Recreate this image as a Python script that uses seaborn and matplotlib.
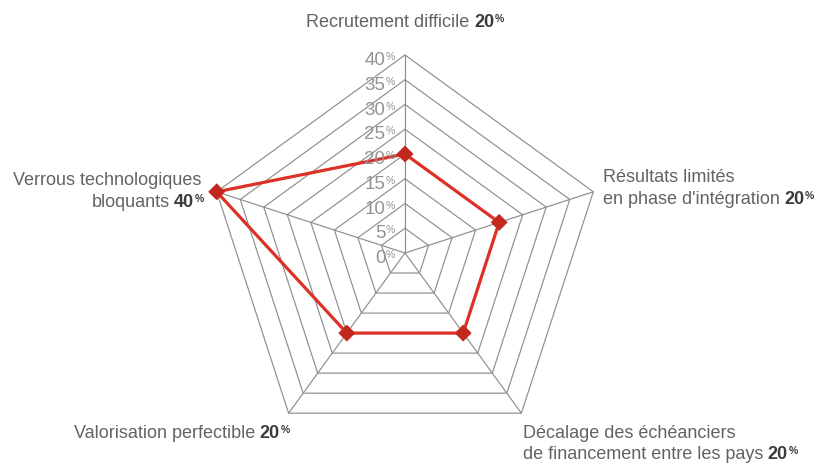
import numpy as np
import pandas as pd
import matplotlib
matplotlib.use("Agg")
import matplotlib.pyplot as plt
from matplotlib.transforms import IdentityTransform
import seaborn as sns

# --- data -------------------------------------------------------------
categories = [
    "Recrutement difficile",
    "Résultats limités\nen phase d'intégration",
    "Décalage des échéanciers\nde financement entre les pays",
    "Valorisation perfectible",
    "Verrous technologiques\nbloquants",
]
shares = [20, 20, 20, 20, 40]
ring_values = [0, 5, 10, 15, 20, 25, 30, 35, 40]
ring_labels = ["0", "5", "10", "15", "20", "25", "30", "35", "40"]

# --- layout (pixels) --------------------------------------------------
W, H = 821, 465
CX, CY, R = 405, 253, 198

GRID = "#8e8e8e"
LINE_RED = "#dd3026"
MARK_RED = "#c3281e"
TXT = "#636363"
TXT_BOLD = "#3c3c3c"
TICK = "#939393"

sns.set_theme(style="white")
plt.rcParams["font.family"] = ["Liberation Sans", "DejaVu Sans"]

fig = plt.figure(figsize=(W / 100, H / 100), dpi=100)
fig.patch.set_facecolor("white")
ax = fig.add_axes([(CX - R) / W, (H - CY - R) / H, 2 * R / W, 2 * R / H],
                  projection="polar")
ax.set_theta_zero_location("N")
ax.set_theta_direction(-1)

n = len(categories)
theta = np.arange(n) * 2 * np.pi / n
theta_closed = np.append(theta, theta[0])

# pentagon rings and spokes
for v in ring_values[1:]:
    ax.plot(theta_closed, [v] * (n + 1), color=GRID, lw=0.85, zorder=1,
            clip_on=False)
for t in theta:
    ax.plot([t, t], [0, ring_values[-1]], color=GRID, lw=0.85, zorder=1,
            clip_on=False)

# data polygon
df = pd.DataFrame({"angle": theta_closed, "share": shares + shares[:1]})
sns.lineplot(data=df, x="angle", y="share", sort=False, estimator=None,
             color=LINE_RED, lw=2.3, ax=ax, zorder=3, clip_on=False)
pts = pd.DataFrame({"angle": theta, "share": shares})
sns.scatterplot(data=pts, x="angle", y="share", marker="D", s=75,
                color=MARK_RED, edgecolor="none", ax=ax, zorder=4,
                clip_on=False)

ax.set_ylim(0, ring_values[-1])
ax.set_xlabel("")
ax.set_ylabel("")
ax.set_xticks([])
ax.set_yticks([])
ax.grid(False)
ax.spines["polar"].set_visible(False)
ax.patch.set_alpha(0)

renderer = fig.canvas.get_renderer()


def rich(x, y, parts, ha="left"):
    """Draw text pieces on one baseline (y in pixels from the top)."""
    items = []
    for s, size, weight, color, rise, gap in parts:
        t = fig.text(0, 0, s, fontsize=size, fontweight=weight, color=color,
                     transform=IdentityTransform(), va="baseline", ha="left")
        w = t.get_window_extent(renderer).width
        items.append((t, rise, gap, w))
    total = sum(gap + w for _, _, gap, w in items)
    x0 = {"left": x, "right": x - total, "center": x - total / 2}[ha]
    for t, rise, gap, w in items:
        x0 += gap
        t.set_position((x0, H - y + rise))
        x0 += w


def reg(s):
    return (s, 13, "normal", TXT, 0, 0)


def num(s):
    return (s, 13, "bold", TXT_BOLD, 0, 4.5)


def pct():
    return ("%", 7.5, "bold", TXT_BOLD, 5, 0.5)


# radial tick labels along the top spoke
for v, lab in zip(ring_values, ring_labels):
    y_ring = CY - R * v / ring_values[-1]
    rich(395, y_ring + 10,
         [(lab, 13.5, "normal", TICK, 0, 0),
          ("%", 7.5, "normal", TICK, 5, 0.5)], ha="right")

# category labels
vals = [str(v) for v in shares]
rich(405, 27, [reg(categories[0]), num(vals[0]), pct()], ha="center")

l1, l2 = categories[1].split("\n")
rich(603, 182, [reg(l1)])
rich(603, 204, [reg(l2), num(vals[1]), pct()])

l1, l2 = categories[2].split("\n")
rich(523, 438, [reg(l1)])
rich(523, 459, [reg(l2), num(vals[2]), pct()])

rich(74, 438, [reg(categories[3]), num(vals[3]), pct()])

l1, l2 = categories[4].split("\n")
rich(201, 185, [reg(l1)], ha="right")
rich(204, 207, [reg(l2), num(vals[4]), pct()], ha="right")

fig.savefig("out.png", dpi=100, facecolor="white")
